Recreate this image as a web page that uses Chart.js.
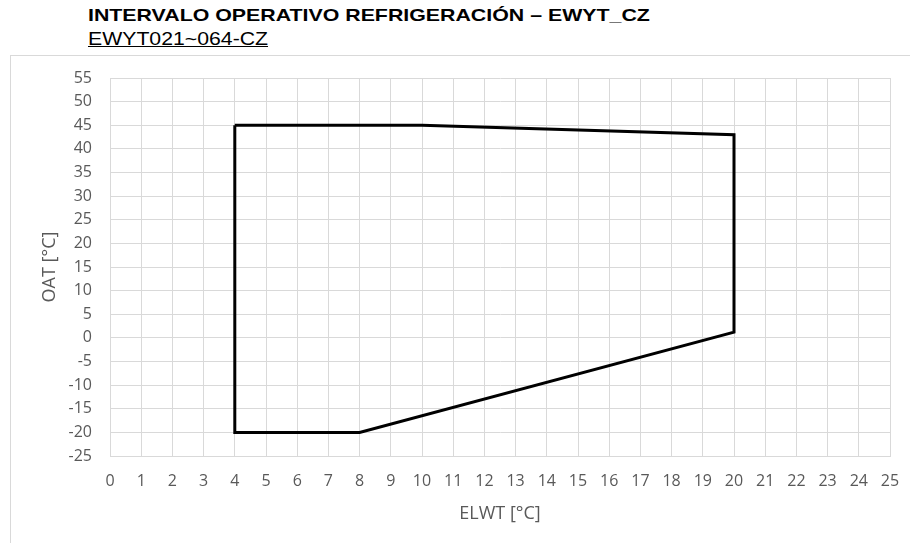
<!DOCTYPE html>
<html>
<head>
<meta charset="utf-8">
<script src="https://cdn.jsdelivr.net/npm/chart.js@4.4.1/dist/chart.umd.min.js"></script>
<style>
  body { margin: 0; background: #fff; width: 910px; height: 543px; overflow: hidden; position: relative; }
  #title { position: absolute; left: 88px; top: 6px; font: bold 17px "Liberation Sans", Arial, sans-serif; color: #000; white-space: nowrap; transform: scaleX(1.255); transform-origin: 0 0; }
  #subtitle { position: absolute; left: 88px; top: 29px; font: 18px "Liberation Sans", Arial, sans-serif; color: #000; text-decoration: underline; white-space: nowrap; transform: scaleX(1.18); transform-origin: 0 0; }
  #box { position: absolute; left: 10px; top: 55px; width: 905px; height: 495px; border: 1px solid #d9d9d9; box-sizing: border-box; }
  #wrap { position: absolute; left: 0; top: 0; width: 900px; height: 488px; }
</style>
</head>
<body>
<div id="title">INTERVALO OPERATIVO REFRIGERACIÓN – EWYT_CZ</div>
<div id="subtitle">EWYT021~064-CZ</div>
<div id="box"><div id="wrap"><canvas id="chart"></canvas></div></div>
<script>
// operating envelope corners (closed polygon)
const elwt = [4, 10, 20, 20, 8, 4, 4];
const oat = [45, 45, 43, 1.2, -20, -20, 45];

const xMin = 0, xMax = 25, xStep = 1;
const yMin = -25, yMax = 55, yStep = 5;

const points = elwt.map((x, i) => ({ x: x, y: oat[i] }));

const tickFont = { family: "'Open Sans', sans-serif", size: 16 };
const titleFont = { family: "'Open Sans', sans-serif", size: 18 };
const gray = '#595959';

const ctx = document.getElementById('chart');
new Chart(ctx, {
    type: 'scatter',
    data: {
        datasets: [{
            label: 'EWYT_CZ',
            data: points,
            showLine: true,
            borderColor: '#000',
            borderWidth: 3,
            pointRadius: 0,
            fill: false,
            tension: 0
        }]
    },
    options: {
        responsive: true,
        maintainAspectRatio: false,
        animation: false,
        layout: { padding: { left: 10, top: 22, right: 21, bottom: 0 } },
        plugins: {
            legend: { display: false },
            tooltip: { enabled: false }
        },
        scales: {
            x: {
                type: 'linear',
                min: xMin, max: xMax,
                ticks: { stepSize: xStep, color: gray, font: tickFont, padding: 16, maxRotation: 0, autoSkip: false },
                grid: { color: '#d9d9d9', drawTicks: false },
                border: { color: '#d9d9d9' },
                title: { display: true, text: 'ELWT [°C]', color: gray, font: titleFont, padding: { top: 0, bottom: 19 } },
                afterFit: (s) => { s.height = 88; s.paddingLeft = 0; s.paddingRight = 0; }
            },
            y: {
                type: 'linear',
                min: yMin, max: yMax,
                ticks: { stepSize: yStep, color: gray, font: tickFont, padding: 18 },
                grid: { color: '#d9d9d9', drawTicks: false },
                border: { color: '#d9d9d9' },
                title: { display: true, text: 'OAT [°C]', color: gray, font: titleFont, padding: { top: 18 } },
                afterFit: (s) => { s.width = 89; s.paddingTop = 0; s.paddingBottom = 0; }
            }
        }
    }
});
</script>
</body>
</html>
